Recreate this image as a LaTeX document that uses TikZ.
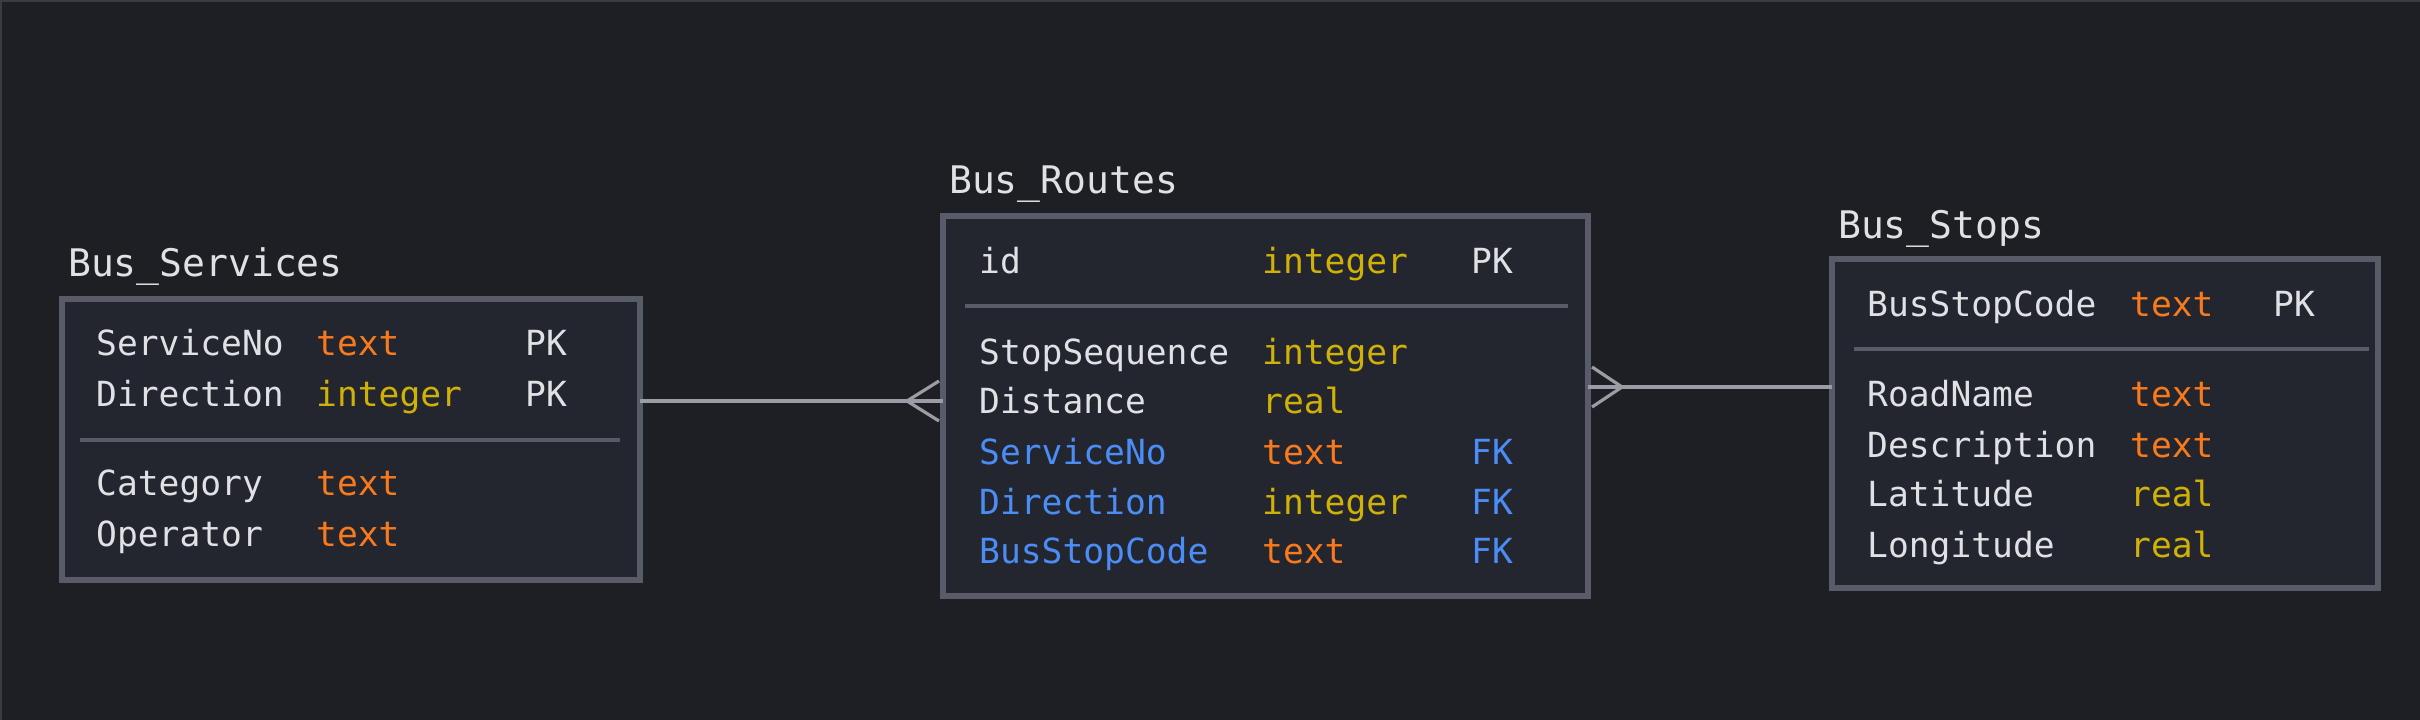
\documentclass[tikz,border=0pt]{standalone}
\usepackage{fontspec}
\setmonofont{DejaVu Sans Mono}
\definecolor{bg}{HTML}{1E1F24}
\definecolor{frame}{HTML}{3A3C43}
\definecolor{boxfill}{HTML}{23262E}
\definecolor{boxdraw}{HTML}{585C69}
\definecolor{txt}{HTML}{DFE1E5}
\definecolor{orng}{HTML}{F97A1C}
\definecolor{ylw}{HTML}{D0B106}
\definecolor{blu}{HTML}{4B8DF6}
\definecolor{connc}{HTML}{9A9DA6}
\tikzset{
  tbl/.style={rectangle, draw=boxdraw, fill=boxfill, line width=6.5pt, inner sep=0pt, outer sep=0pt, anchor=north west},
  fld/.style={anchor=base west, inner sep=0pt, font=\ttfamily\fontsize{34.6pt}{40pt}\selectfont, text=txt},
  tor/.style={fld, text=orng},
  tyl/.style={fld, text=ylw},
  fk/.style={fld, text=blu},
  ttl/.style={anchor=base west, inner sep=0pt, font=\ttfamily\fontsize{38pt}{44pt}\selectfont, text=txt},
  sepline/.style={draw=boxdraw, line width=4pt},
  conn/.style={draw=connc, line width=3.2pt},
}
\begin{document}
\begin{tikzpicture}[x=1pt,y=-1pt]
\useasboundingbox (0,0) rectangle (2420,720);
\fill[bg] (0,0) rectangle (2420,720);
\draw[frame, line width=2pt] (1,720) -- (1,1) -- (2420,1);

% ---------- Bus_Services ----------
\node[ttl] (svcT) at (68,276) {Bus\_Services};
\node[tbl, minimum width=578pt, minimum height=281pt] (svc) at (62,299) {};
\draw[sepline] (80,440) -- (620,440);
\node[fld] (s1n) at (96,355) {ServiceNo};
\node[tor] (s1t) at (316,355) {text};
\node[fld] (s1k) at (525,355) {PK};
\node[fld] (s2n) at (96,406) {Direction};
\node[tyl] (s2t) at (316,406) {integer};
\node[fld] (s2k) at (525,406) {PK};
\node[fld] (s3n) at (96,495) {Category};
\node[tor] (s3t) at (316,495) {text};
\node[fld] (s4n) at (96,546) {Operator};
\node[tor] (s4t) at (316,546) {text};

% ---------- Bus_Routes ----------
\node[ttl] (rtsT) at (949,193) {Bus\_Routes};
\node[tbl, minimum width=645pt, minimum height=380pt] (rts) at (943,216) {};
\draw[sepline] (965,306) -- (1568,306);
\node[fld] (r1n) at (979,273) {id};
\node[tyl] (r1t) at (1262,273) {integer};
\node[fld] (r1k) at (1471,273) {PK};
\node[fld] (r2n) at (979,364) {StopSequence};
\node[tyl] (r2t) at (1262,364) {integer};
\node[fld] (r3n) at (979,413) {Distance};
\node[tyl] (r3t) at (1262,413) {real};
\node[fk]  (r4n) at (979,464) {ServiceNo};
\node[tor] (r4t) at (1262,464) {text};
\node[fk]  (r4k) at (1471,464) {FK};
\node[fk]  (r5n) at (979,514) {Direction};
\node[tyl] (r5t) at (1262,514) {integer};
\node[fk]  (r5k) at (1471,514) {FK};
\node[fk]  (r6n) at (979,563) {BusStopCode};
\node[tor] (r6t) at (1262,563) {text};
\node[fk]  (r6k) at (1471,563) {FK};

% ---------- Bus_Stops ----------
\node[ttl] (stpT) at (1838,238) {Bus\_Stops};
\node[tbl, minimum width=546pt, minimum height=329pt] (stp) at (1832,259) {};
\draw[sepline] (1854,349) -- (2369,349);
\node[fld] (b1n) at (1867,316) {BusStopCode};
\node[tor] (b1t) at (2130,316) {text};
\node[fld] (b1k) at (2273,316) {PK};
\node[fld] (b2n) at (1867,406) {RoadName};
\node[tor] (b2t) at (2130,406) {text};
\node[fld] (b3n) at (1867,457) {Description};
\node[tor] (b3t) at (2130,457) {text};
\node[fld] (b4n) at (1867,506) {Latitude};
\node[tyl] (b4t) at (2130,506) {real};
\node[fld] (b5n) at (1867,557) {Longitude};
\node[tyl] (b5t) at (2130,557) {real};

% ---------- connectors ----------
\coordinate (l1) at (0,401);
\coordinate (l1tip) at (907,401);
\coordinate (l1a) at (939,381);
\coordinate (l1b) at (939,421);
\draw[conn] (svc.east |- l1) -- (rts.west |- l1);
\draw[conn] (l1a) -- (l1tip) -- (l1b);

\coordinate (l2) at (0,387);
\coordinate (l2tip) at (1622,387);
\coordinate (l2a) at (1592,367);
\coordinate (l2b) at (1592,407);
\draw[conn] (rts.east |- l2) -- (stp.west |- l2);
\draw[conn] (l2a) -- (l2tip) -- (l2b);
\end{tikzpicture}
\end{document}
